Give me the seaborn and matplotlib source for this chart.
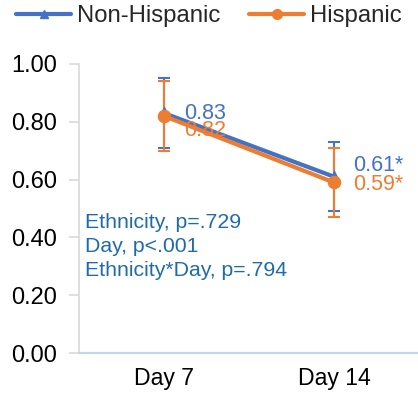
import matplotlib
matplotlib.use("Agg")
import matplotlib.pyplot as plt
import seaborn as sns
import pandas as pd
from matplotlib.lines import Line2D

# ---- data ----
days = ["Day 7", "Day 14"]
groups = ["Non-Hispanic", "Hispanic"]
non_hispanic = [0.83, 0.61]
hispanic = [0.82, 0.59]
non_hispanic_err = [0.12, 0.12]
hispanic_err = [0.12, 0.12]
non_hispanic_labels = ["0.83", "0.61*"]
hispanic_labels = ["0.82", "0.59*"]
stats_lines = ["Ethnicity, p=.729", "Day, p<.001", "Ethnicity*Day, p=.794"]
y_ticks = [0.0, 0.2, 0.4, 0.6, 0.8, 1.0]

BLUE = "#4472C4"
ORANGE = "#ED7D31"
TEXTBLUE = "#1F6BAA"

df = pd.DataFrame({
    "Day": days * 2,
    "Group": [groups[0]] * 2 + [groups[1]] * 2,
    "Value": non_hispanic + hispanic,
})

sns.set_theme(style="white")
plt.rcParams["font.family"] = ["Liberation Sans", "DejaVu Sans"]

fig = plt.figure(figsize=(4.18, 3.95), dpi=100)
ax = fig.add_axes([79 / 418, 42 / 395, 340 / 418, 289 / 395])

sns.pointplot(data=df, x="Day", y="Value", hue="Group", order=days,
              hue_order=groups, palette=[BLUE, ORANGE], markers=["^", "o"],
              errorbar=None, dodge=False, ax=ax, legend=False,
              linewidth=3.0, markersize=6)
for ln in ax.lines:
    if ln.get_marker() == "o":
        ln.set_markersize(7.5)

# error bars
ax.errorbar(days, non_hispanic, yerr=non_hispanic_err, fmt="none",
            ecolor=BLUE, elinewidth=1.5, capsize=4.5, capthick=1.5, zorder=1)
ax.errorbar(days, hispanic, yerr=hispanic_err, fmt="none",
            ecolor=ORANGE, elinewidth=1.5, capsize=4.5, capthick=1.5, zorder=1.5)

# data labels
nh_offsets = [(20, 0), (19, 11)]
h_offsets = [(20, -14), (19, -2)]
for i, d in enumerate(days):
    ax.annotate(non_hispanic_labels[i], (i, non_hispanic[i]), xytext=nh_offsets[i],
                textcoords="offset pixels", color=BLUE, fontsize=15.5,
                ha="left", va="center")
    ax.annotate(hispanic_labels[i], (i, hispanic[i]), xytext=h_offsets[i],
                textcoords="offset pixels", color=ORANGE, fontsize=15.5,
                ha="left", va="center")

# stats text
stat_y = [(353 - 222) / 289, (353 - 247) / 289, (353 - 271) / 289]
for s, yy in zip(stats_lines, stat_y):
    ax.text(6 / 340, yy, s, transform=ax.transAxes, color=TEXTBLUE,
            fontsize=15.3, ha="left", va="center")

ax.set_xlim(-0.5, 1.5)
ax.set_ylim(0, 1.0)
ax.set_yticks(y_ticks)
ax.set_yticklabels([f"{v:.2f}" for v in y_ticks])
ax.set_xlabel("")
ax.set_ylabel("")
ax.tick_params(axis="y", labelsize=17, length=7, width=1.2, color="#D9D9D9",
               pad=9, labelcolor="black", direction="out", left=True)
ax.tick_params(axis="x", labelsize=16.6, length=0, pad=10, labelcolor="black")
for sp in ["top", "right"]:
    ax.spines[sp].set_visible(False)
ax.spines["left"].set_color("#D9D9D9")
ax.spines["left"].set_linewidth(1.2)
ax.spines["bottom"].set_color("#BDD7EE")
ax.spines["bottom"].set_linewidth(1.5)
ax.grid(False)

# legend
handles = [Line2D([], [], color=BLUE, lw=3, marker="^", markersize=6),
           Line2D([], [], color=ORANGE, lw=3, marker="o", markersize=7)]
fig.legend(handles, groups, loc="center", bbox_to_anchor=(0.5, 1 - 16 / 395),
           ncol=2, frameon=False, fontsize=17.2, handlelength=2.3,
           handletextpad=0.25, columnspacing=1.2, borderaxespad=0)

fig.savefig("out.png", dpi=100)
